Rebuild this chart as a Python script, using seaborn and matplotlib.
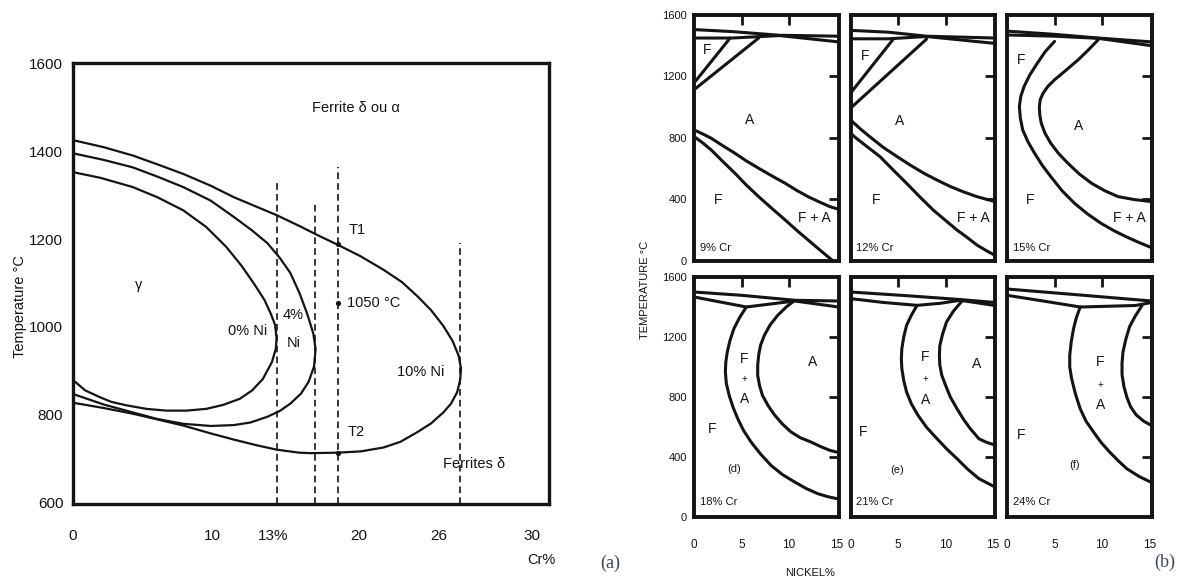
import numpy as np
import pandas as pd
import seaborn as sns
import matplotlib.pyplot as plt

INK = '#141414'

# ---------- (a) gamma loop of the Fe-Cr-Ni system ----------
# (Cr %, temperature degC)
loop_0ni = [(0, 1353), (1.8, 1340), (3.9, 1319), (5.5, 1296), (7.2, 1266), (8.7, 1228),
            (10.0, 1183), (11.0, 1140), (11.8, 1100), (12.5, 1062), (12.9, 1032), (13.2, 1005),
            (13.3, 975), (13.25, 950), (13.0, 920), (12.4, 881), (11.7, 855), (10.9, 836),
            (9.8, 822), (8.7, 813), (7.4, 809), (6.1, 809), (4.8, 813), (3.5, 821), (2.5, 829),
            (1.8, 839), (0.8, 855), (0, 879)]
loop_4ni = [(0, 1396), (2.0, 1381), (3.9, 1364), (5.5, 1343), (7.2, 1319), (9.0, 1288),
            (10.5, 1251), (11.7, 1220), (12.7, 1191), (13.5, 1158), (14.2, 1123), (14.8, 1077),
            (15.3, 1030), (15.7, 985), (15.85, 950), (15.75, 910), (15.4, 875), (14.9, 848),
            (14.2, 825), (13.5, 808), (12.7, 795), (11.6, 782), (10.5, 776), (9.0, 774),
            (7.2, 779), (5.5, 790), (3.9, 805), (2.0, 823), (0, 847)]
loop_10ni = [(0, 1426), (2.0, 1410), (3.9, 1391), (5.5, 1371), (7.2, 1349), (9.0, 1322),
             (10.5, 1296), (12.0, 1274), (13.3, 1255), (14.8, 1230), (16.0, 1209), (17.2, 1189),
             (18.8, 1161), (20.3, 1130), (21.5, 1102), (22.5, 1070), (23.4, 1038), (24.2, 1002),
             (24.8, 968), (25.2, 934), (25.35, 905), (25.3, 880), (25.1, 851), (24.7, 825),
             (24.2, 805), (23.4, 780), (22.5, 760), (21.4, 738), (20.3, 725), (18.8, 716),
             (17.2, 713), (15.5, 712), (14.8, 713), (13.3, 720), (12.0, 730), (10.5, 743),
             (9.0, 757), (7.2, 775), (5.5, 789), (3.9, 802), (2.0, 815), (0, 827)]

dash_cr = [13.3, 15.8, 17.3, 25.3]
dash_top = [1334, 1281, 1364, 1191]
point_cr = [17.3, 17.3, 17.3]
point_t = [1189, 1055, 713]

cr_tick_marks = [4.2, 9.1, 14.0, 18.7, 23.9, 30.0]
cr_label_pos = [0, 9.1, 13.1, 18.7, 23.9, 30.0]
cr_labels = ['0', '10', '13%', '20', '26', '30']
temp_ticks_a = [600, 800, 1000, 1200, 1400, 1600]

# ---------- (b) sections at constant Cr, (Ni %, temperature degC) ----------
cr9_top1 = [(0, 1505), (4, 1492), (9, 1468), (15.2, 1462)]
cr9_top2 = [(0, 1450), (4, 1450), (9, 1466), (15.2, 1425)]
cr9_diag1 = [(3.8, 1450), (0, 1157)]
cr9_diag2 = [(6.8, 1450), (0, 1113)]
cr9_low1 = [(0, 852), (0.9, 826), (1.8, 798), (3.0, 750), (4.3, 700), (5.5, 650), (6.8, 602),
            (8.2, 552), (9.6, 504), (10.8, 458), (12.0, 417), (13.2, 382), (14.3, 352), (15.2, 335)]
cr9_low2 = [(0, 809), (0.9, 768), (1.8, 722), (3.0, 648), (4.3, 570), (5.5, 493), (6.8, 417),
            (8.2, 340), (9.6, 265), (10.8, 198), (12.0, 135), (13.2, 72), (14.3, 15), (14.6, 0)]

cr12_top1 = [(0, 1500), (4, 1488), (8, 1462), (15.2, 1450)]
cr12_top2 = [(0, 1445), (4, 1445), (8, 1460), (15.2, 1415)]
cr12_diag1 = [(4.5, 1443), (0, 1091)]
cr12_diag2 = [(8.0, 1443), (0, 993)]
cr12_low1 = [(0, 917), (1.0, 860), (2.0, 809), (3.4, 740), (4.9, 678), (6.3, 622), (7.7, 570),
             (9.1, 525), (10.5, 483), (11.9, 448), (13.3, 417), (15.2, 385)]
cr12_low2 = [(0, 830), (0.6, 798), (1.8, 740), (3.1, 678), (4.5, 590), (5.9, 504), (7.3, 415),
             (8.7, 330), (10.0, 262), (11.2, 200), (12.3, 150), (13.3, 102), (14.3, 65), (15.2, 35)]

cr15_top1 = [(0, 1495), (5, 1474), (9.6, 1450), (15.2, 1425)]
cr15_top2 = [(0, 1470), (5, 1462), (9.6, 1448), (15.2, 1400)]
cr15_outer = [(5.0, 1428), (4.0, 1360), (3.2, 1287), (2.4, 1210), (1.8, 1135), (1.45, 1070),
              (1.3, 1004), (1.4, 930), (1.65, 852), (2.2, 775), (2.9, 700), (3.7, 622),
              (4.6, 548), (5.8, 455), (7.1, 374), (8.5, 303), (9.9, 243), (11.2, 197),
              (12.5, 157), (13.9, 118), (15.2, 85)]
cr15_inner = [(9.6, 1439), (8.6, 1375), (7.5, 1309), (6.2, 1240), (5.0, 1178), (4.3, 1135),
              (3.8, 1091), (3.5, 1050), (3.4, 1004), (3.45, 950), (3.6, 896), (4.0, 830),
              (4.6, 765), (5.4, 700), (6.4, 635), (7.6, 565), (8.9, 504), (10.3, 455),
              (11.7, 417), (13.4, 398), (15.2, 385)]

cr18_top1 = [(0, 1500), (5, 1478), (10.6, 1445), (15.2, 1440)]
cr18_top2 = [(0, 1467), (5.5, 1400), (10.6, 1440), (15.2, 1400)]
cr18_outer = [(5.5, 1400), (4.8, 1330), (4.2, 1256), (3.8, 1180), (3.5, 1100), (3.35, 1035),
              (3.3, 967), (3.4, 890), (3.7, 811), (4.1, 733), (4.6, 656), (5.2, 578),
              (6.0, 500), (7.0, 420), (8.1, 344), (9.3, 283), (10.6, 233), (11.8, 190),
              (13.0, 156), (14.1, 135), (15.2, 120)]
cr18_inner = [(10.6, 1444), (9.7, 1400), (8.8, 1344), (8.0, 1280), (7.4, 1211), (7.0, 1145),
              (6.8, 1078), (6.7, 1010), (6.7, 944), (6.9, 875), (7.2, 811), (7.8, 742),
              (8.5, 678), (9.3, 620), (10.2, 567), (11.2, 528), (12.3, 500), (13.3, 470),
              (14.3, 444), (15.2, 430)]

cr21_top1 = [(0, 1500), (6, 1475), (11.5, 1450), (15.2, 1430)]
cr21_top2 = [(0, 1456), (3.5, 1430), (7.0, 1411), (9.5, 1425), (11.5, 1445), (15.2, 1410)]
cr21_outer = [(7.0, 1411), (6.4, 1345), (5.9, 1278), (5.6, 1200), (5.4, 1122), (5.35, 1055),
              (5.4, 989), (5.6, 910), (5.9, 833), (6.4, 755), (7.1, 678), (8.0, 598),
              (9.1, 522), (10.1, 455), (11.2, 389), (12.3, 320), (13.5, 256), (15.2, 200)]
cr21_inner = [(11.7, 1438), (10.8, 1370), (10.1, 1300), (9.7, 1222), (9.4, 1144), (9.35, 1078),
              (9.4, 1011), (9.6, 945), (10.0, 878), (10.5, 800), (11.2, 722), (11.9, 650),
              (12.6, 589), (13.5, 522), (14.3, 498), (15.2, 480)]

cr24_top1 = [(0, 1520), (7.7, 1480), (15.2, 1440)]
cr24_top2 = [(0, 1478), (3.8, 1440), (7.7, 1400), (13.5, 1410), (15.2, 1430)]
cr24_outer = [(7.7, 1400), (7.3, 1330), (7.0, 1256), (6.75, 1165), (6.6, 1078), (6.6, 1000),
              (6.8, 922), (7.2, 820), (7.7, 722), (8.3, 640), (9.1, 567), (9.9, 497),
              (10.8, 433), (11.7, 375), (12.6, 322), (13.9, 270), (15.2, 230)]
cr24_inner = [(14.2, 1410), (13.5, 1340), (12.9, 1270), (12.5, 1185), (12.2, 1100),
              (12.1, 1025), (12.1, 950), (12.3, 870), (12.6, 800), (13.0, 735), (13.6, 680),
              (14.4, 638), (15.2, 610)]

section_names = ['9% Cr', '12% Cr', '15% Cr', '18% Cr', '21% Cr', '24% Cr']
section_tags = ['', '', '', '(d)', '(e)', '(f)']
ni_ticks = [0, 5, 10, 15]
temp_ticks_b = [0, 400, 800, 1200, 1600]

sns.set_theme(style='white')
plt.rcParams['font.family'] = ['Liberation Sans', 'DejaVu Sans']


def draw_curve(ax, pts, lw, **kw):
    df = pd.DataFrame(pts, columns=['x', 'y'])
    sns.lineplot(data=df, x='x', y='y', sort=False, estimator=None,
                 color=INK, lw=lw, ax=ax, **kw)


fig = plt.figure(figsize=(11.86, 5.82), dpi=100)
fig.patch.set_facecolor('white')
W, H = 1186, 582

# ---------------- panel (a) ----------------
ax = fig.add_axes([73 / W, 1 - 504 / H, 476 / W, 441 / H])
for loop in (loop_0ni, loop_4ni, loop_10ni):
    draw_curve(ax, loop, 1.6)
for x, top in zip(dash_cr, dash_top):
    draw_curve(ax, [(x, 596), (x, top)], 1.2, linestyle=(0, (4, 2.5)))
sns.scatterplot(x=point_cr, y=point_t, color=INK, s=14, ax=ax, zorder=5, linewidth=0)

ax.set_xlim(0, 31.1)
ax.set_ylim(596, 1602)
ax.set_xticks(cr_tick_marks)
ax.set_xticks(cr_label_pos, minor=True)
ax.set_xticklabels(cr_labels, minor=True)
ax.xaxis.remove_overlapping_locs = False
ax.tick_params(axis='x', which='major', direction='in', length=12, width=1.8,
               color=INK, labelbottom=False)
ax.tick_params(axis='x', which='minor', direction='in', length=0, pad=18,
               labelsize=11, labelcolor=INK)
ax.set_yticks(temp_ticks_a)
ax.tick_params(axis='y', direction='in', length=10, width=1.8, color=INK,
               pad=7, labelsize=11, labelcolor=INK)
ax.set_xlabel('')
ax.set_ylabel('')
for s in ax.spines.values():
    s.set_linewidth(2.4)
    s.set_color(INK)

txt = dict(color=INK, fontsize=10.5, ha='center', va='center')
ax.text(18.5, 1500, 'Ferrite δ ou α', **txt)
ax.text(18.6, 1221, 'T1', **txt)
ax.text(17.9, 1055, '1050 °C', **{**txt, 'ha': 'left'})
ax.text(4.3, 1096, 'γ', **txt)
ax.text(11.4, 990, '0% Ni', **txt)
ax.text(14.4, 1028, '4%', **txt)
ax.text(14.4, 964, 'Ni', **txt)
ax.text(22.7, 896, '10% Ni', **txt)
ax.text(18.5, 760, 'T2', **txt)
ax.text(26.2, 688, 'Ferrites δ', **txt)

fig.text(20 / W, 1 - 307 / H, 'Temperature °C', rotation=90, fontsize=10.5,
         color=INK, ha='center', va='center')
fig.text(541 / W, 1 - 560 / H, 'Cr%', fontsize=10.5, color=INK, ha='center', va='center')
fig.text(610 / W, 1 - 563 / H, '(a)', fontsize=13, color='#3b4656',
         family='Liberation Serif', ha='center', va='center')

# ---------------- panel (b) ----------------
sections = [
    [cr9_top1, cr9_top2, cr9_diag1, cr9_diag2, cr9_low1, cr9_low2],
    [cr12_top1, cr12_top2, cr12_diag1, cr12_diag2, cr12_low1, cr12_low2],
    [cr15_top1, cr15_top2, cr15_outer, cr15_inner],
    [cr18_top1, cr18_top2, cr18_outer, cr18_inner],
    [cr21_top1, cr21_top2, cr21_outer, cr21_inner],
    [cr24_top1, cr24_top2, cr24_outer, cr24_inner],
]
lefts = [694, 850.5, 1007]
rows = [(260.7, 245.7), (517, 240)]

# region labels: (text, Ni, T)
region_labels = [
    [('F', 1.4, 1374), ('A', 5.9, 917), ('F', 2.5, 396), ('F + A', 12.7, 276)],
    [('F', 1.5, 1330), ('A', 5.2, 907), ('F', 2.7, 396), ('F + A', 12.9, 276)],
    [('F', 1.5, 1309), ('A', 7.5, 874), ('F', 2.4, 396), ('F + A', 12.9, 276)],
    [('F', 5.3, 1056), ('+', 5.3, 922), ('A', 5.3, 789), ('A', 12.5, 1033), ('F', 1.9, 589)],
    [('F', 7.85, 1067), ('+', 7.85, 922), ('A', 7.85, 778), ('A', 13.3, 1022), ('F', 1.3, 567)],
    [('F', 9.8, 1033), ('+', 9.8, 878), ('A', 9.8, 744), ('F', 1.5, 544)],
]
tag_pos = [None, None, None, (4.2, 322), (4.9, 311), (7.1, 344)]

for i, curves in enumerate(sections):
    r, c = divmod(i, 3)
    bottom_px, h_px = rows[r]
    axb = fig.add_axes([lefts[c] / W, 1 - bottom_px / H, 144.5 / W, h_px / H])
    for pts in curves:
        draw_curve(axb, pts, 2.2)
    axb.set_xlim(0, 15.2)
    axb.set_ylim(0, 1600)
    axb.set_xlabel('')
    axb.set_ylabel('')
    axb.set_xticks([5, 10])
    axb.set_yticks([400, 800, 1200])
    axb.tick_params(which='major', direction='in', length=7, width=2, color=INK,
                    top=True, right=True, labelbottom=False, labelleft=False)
    axb.xaxis.remove_overlapping_locs = False
    axb.yaxis.remove_overlapping_locs = False
    if r == 1:
        axb.set_xticks(ni_ticks, minor=True)
        axb.set_xticklabels([str(v) for v in ni_ticks], minor=True)
        axb.tick_params(axis='x', which='minor', length=0, pad=16,
                        labelsize=8.5, labelcolor=INK)
    if c == 0:
        axb.set_yticks(temp_ticks_b, minor=True)
        axb.set_yticklabels([str(v) for v in temp_ticks_b], minor=True)
        axb.tick_params(axis='y', which='minor', length=0, pad=5,
                        labelsize=8, labelcolor=INK)
    for s in axb.spines.values():
        s.set_linewidth(2.8)
        s.set_color(INK)
    for text, x, y in region_labels[i]:
        axb.text(x, y, text, fontsize=10 if text != '+' else 7,
                 color=INK, ha='center', va='center')
    axb.text(0.6, 85 if r == 0 else 100, section_names[i], fontsize=8,
             color=INK, ha='left', va='center')
    if tag_pos[i] is not None:
        axb.text(tag_pos[i][0], tag_pos[i][1], section_tags[i], fontsize=8,
                 color=INK, ha='center', va='center')

fig.text(645 / W, 1 - 290 / H, 'TEMPERATURE °C', rotation=90, fontsize=8,
         color=INK, ha='center', va='center')
fig.text(810 / W, 1 - 573 / H, 'NICKEL%', fontsize=8, color=INK,
         ha='center', va='center')
fig.text(1165 / W, 1 - 562 / H, '(b)', fontsize=13, color='#3b4656',
         family='Liberation Serif', ha='center', va='center')

fig.savefig('out.png', dpi=100, facecolor='white')
